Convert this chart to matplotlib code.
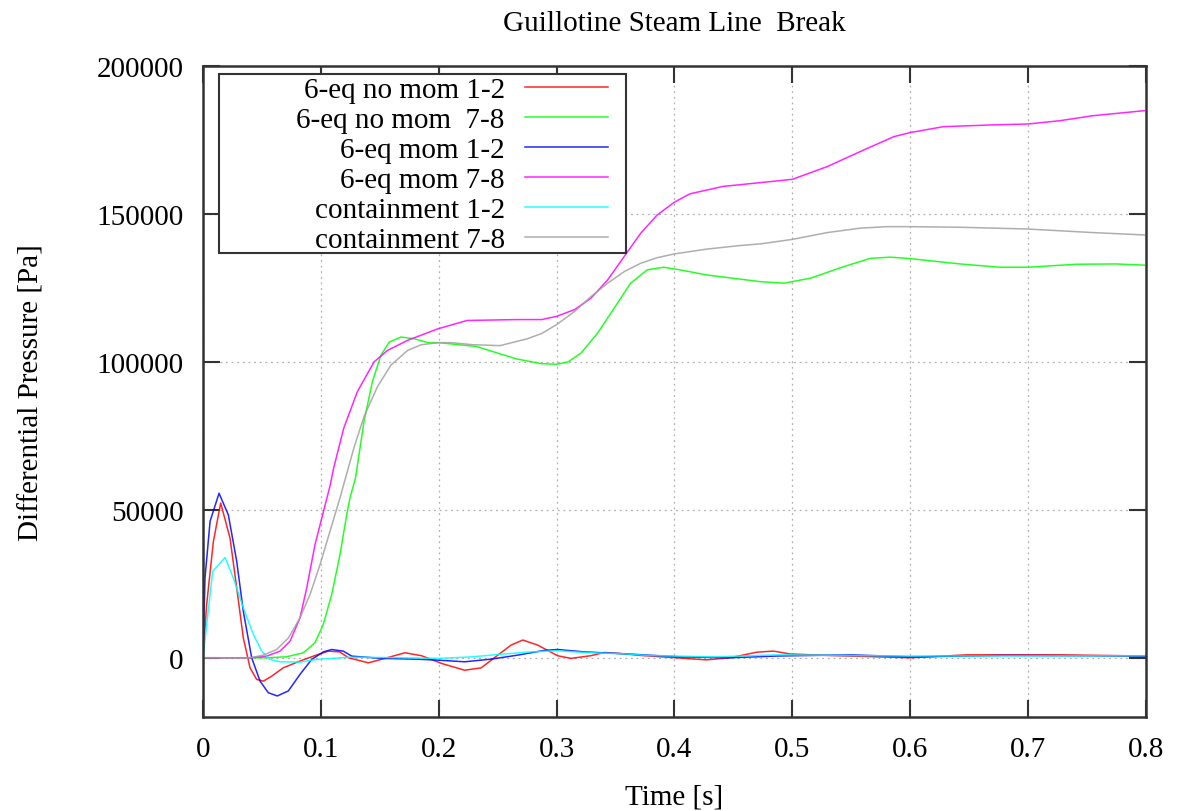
import matplotlib
matplotlib.use("Agg")
import matplotlib.pyplot as plt
from matplotlib.patches import Rectangle

plt.rcParams['font.family'] = ['Liberation Serif', 'DejaVu Serif']

title = "Guillotine Steam Line  Break"
xlabel = "Time [s]"
ylabel = "Differential Pressure [Pa]"

labels = ["6-eq no mom 1-2", "6-eq no mom  7-8", "6-eq mom 1-2",
          "6-eq mom 7-8", "containment 1-2", "containment 7-8"]
colors = ["#ff0000", "#00ff00", "#0000ff", "#ff00ff", "#00ffff", "#a0a0a0"]

# 6-eq no mom 1-2
t_red = [0, 0.0031, 0.0088, 0.015, 0.0229, 0.0286, 0.0342, 0.0399, 0.0455, 0.0512,
         0.0583, 0.068, 0.0823, 0.0936, 0.1063, 0.116, 0.1234, 0.1403, 0.1544, 0.1713,
         0.1854, 0.2023, 0.222, 0.236, 0.2501, 0.2614, 0.2713, 0.2839, 0.3008, 0.3121,
         0.329, 0.3403, 0.3572, 0.371, 0.405, 0.427, 0.447, 0.47, 0.484, 0.498,
         0.529, 0.565, 0.6, 0.648, 0.727, 0.8]
v_red = [0, 18000, 39300, 52300, 40500, 23600, 6700, -3400, -7300, -7900,
         -6200, -3400, -1100, 560, 2250, 2000, 0, -1700, -200, 1700,
         700, -1900, -4200, -3400, 900, 4300, 6000, 4300, 700, -200,
         700, 1800, 1350, 800, -100, -700, 0, 1900, 2260, 1300,
         800, 400, 0, 1000, 1000, 600]

# 6-eq no mom 7-8
t_green = [0, 0.054, 0.071, 0.0851, 0.095, 0.102, 0.1092, 0.1162, 0.1219, 0.1247,
           0.1294, 0.1366, 0.1437, 0.1509, 0.158, 0.168, 0.1794, 0.1909, 0.2, 0.232,
           0.266, 0.2874, 0.3, 0.3098, 0.321, 0.3349, 0.3489, 0.3628, 0.3768, 0.3908,
           0.4047, 0.4271, 0.455, 0.4732, 0.493, 0.5155, 0.5437, 0.5662, 0.5831, 0.6,
           0.6423, 0.676, 0.7, 0.7408, 0.7746, 0.7986]
v_green = [0, 0, 340, 1700, 5100, 11200, 21400, 34800, 48300, 54000,
           60800, 79900, 93300, 102200, 106700, 108400, 107800, 106500, 106500, 105200,
           101000, 99400, 99200, 100000, 103100, 109800, 118200, 126600, 131100, 132000,
           131100, 129400, 128000, 127100, 126600, 128300, 132200, 135000, 135400, 134900,
           133100, 132000, 132000, 133000, 133100, 132700]

# 6-eq mom 1-2
t_blue = [0, 0.0017, 0.006, 0.0136, 0.0215, 0.0286, 0.0342, 0.0413, 0.0484, 0.0554,
          0.063, 0.0724, 0.0823, 0.0922, 0.1021, 0.1092, 0.119, 0.1262, 0.1515, 0.1797,
          0.1994, 0.222, 0.2445, 0.267, 0.2896, 0.3008, 0.3234, 0.3572, 0.405, 0.447,
          0.4875, 0.55, 0.6, 0.68, 0.8]
v_blue = [0, 27000, 46100, 55600, 48300, 32600, 15700, 0, -7900, -11800,
          -12900, -11200, -5600, -560, 2000, 2800, 2250, 560, -200, -450,
          -800, -1350, -450, 900, 2500, 2800, 2000, 1350, 300, 0,
          600, 1000, 300, 800, 600]

# 6-eq mom 7-8
t_mag = [0, 0.04, 0.054, 0.0653, 0.0738, 0.0823, 0.088, 0.095, 0.1, 0.1077,
         0.1109, 0.1194, 0.1309, 0.1451, 0.1566, 0.1737, 0.1994, 0.224, 0.266, 0.2874,
         0.3, 0.3154, 0.3293, 0.3433, 0.3573, 0.3712, 0.3852, 0.4, 0.4131, 0.4411,
         0.4732, 0.5, 0.5296, 0.5577, 0.5859, 0.6, 0.6282, 0.6704, 0.7, 0.7268,
         0.755, 0.7986]
v_mag = [0, 0, 560, 2250, 5600, 13500, 23600, 38200, 46000, 58000,
         64200, 77600, 89900, 100000, 103900, 107300, 111200, 114000, 114300, 114300,
         115400, 117700, 121600, 127700, 135600, 143400, 149600, 154000, 156800, 159300,
         160600, 161700, 166000, 171100, 176100, 177500, 179500, 180100, 180400, 181500,
         183200, 184900]

# containment 1-2
t_cyan = [0, 0.0082, 0.0187, 0.0257, 0.0342, 0.0427, 0.0498, 0.0568, 0.0653, 0.0823,
          0.0965, 0.1247, 0.1515, 0.2, 0.2276, 0.25, 0.2783, 0.3008, 0.3234, 0.3572,
          0.377, 0.433, 0.4875, 0.6, 0.8]
v_cyan = [0, 29200, 33900, 27000, 16900, 7900, 2250, -560, -1350, -1460,
          -560, 200, 100, -200, 300, 1100, 2000, 2400, 1800, 1350,
          800, 300, 1000, 600, 700]

# containment 7-8
t_gray = [0, 0.04, 0.0512, 0.0625, 0.0724, 0.0823, 0.0908, 0.0993, 0.1077, 0.1162,
          0.1194, 0.128, 0.1366, 0.148, 0.1594, 0.1737, 0.1851, 0.2, 0.2109, 0.229,
          0.252, 0.275, 0.2874, 0.3, 0.3154, 0.3293, 0.3433, 0.3573, 0.3712, 0.3852,
          0.4, 0.4271, 0.455, 0.4732, 0.5, 0.5296, 0.5577, 0.5803, 0.6, 0.6423,
          0.7, 0.755, 0.7986]
v_gray = [0, 0, 900, 2800, 6700, 13500, 21400, 31500, 42700, 54000,
          58600, 70900, 81500, 91600, 98900, 103900, 105800, 106500, 106500, 105800,
          105500, 107800, 109600, 112600, 117100, 122100, 126600, 130500, 133300, 135200,
          136500, 138100, 139300, 139900, 141400, 143700, 145200, 145700, 145700, 145500,
          144900, 143700, 142900]

series_t = [t_red, t_green, t_blue, t_mag, t_cyan, t_gray]
series_v = [v_red, v_green, v_blue, v_mag, v_cyan, v_gray]

xticks = [0, 0.1, 0.2, 0.3, 0.4, 0.5, 0.6, 0.7, 0.8]
xticklabels = ["0", "0.1", "0.2", "0.3", "0.4", "0.5", "0.6", "0.7", "0.8"]
yticks = [0, 50000, 100000, 150000, 200000]

fig = plt.figure(figsize=(11.83, 8.12), dpi=100)
ax = fig.add_axes([0.1716, 0.1158, 0.7971, 0.8017])

for t, v, c, lab in zip(series_t, series_v, colors, labels):
    ax.plot(t, v, color=c, lw=1.1, label=lab, alpha=0.85)

ax.set_xlim(0, 0.8)
ax.set_ylim(-20000, 200000)
ax.set_xticks(xticks)
ax.set_xticklabels(xticklabels)
ax.set_yticks(yticks)
ax.grid(True, color="#b0b0b0", linestyle=(0, (1.5, 3)), linewidth=0.9)
ax.tick_params(direction="in", length=12, width=1.5, top=True, right=True,
               labelsize=21, pad=14, colors="#333333", labelcolor="black")
for s in ax.spines.values():
    s.set_linewidth(1.8)
    s.set_color("#333333")

ax.set_title(title, fontsize=21, pad=26)
ax.set_xlabel(xlabel, fontsize=21, labelpad=15)
ax.set_ylabel(ylabel, fontsize=21, labelpad=37)

# legend frame (opaque box, wider than its contents as in the original)
frame = Rectangle((0.017, 0.7127), 0.4316, 0.275, transform=ax.transAxes,
                  facecolor="white", edgecolor="#333333", linewidth=1.5, zorder=4.9)
ax.add_patch(frame)
leg = ax.legend(loc="upper right", bbox_to_anchor=(0.4295, 0.983), markerfirst=False,
                fontsize=21, frameon=False, handlelength=2.85,
                labelspacing=0.12, borderpad=0.0, handletextpad=0.69, borderaxespad=0)
leg.set_zorder(5)

fig.savefig("out.png", dpi=100)
